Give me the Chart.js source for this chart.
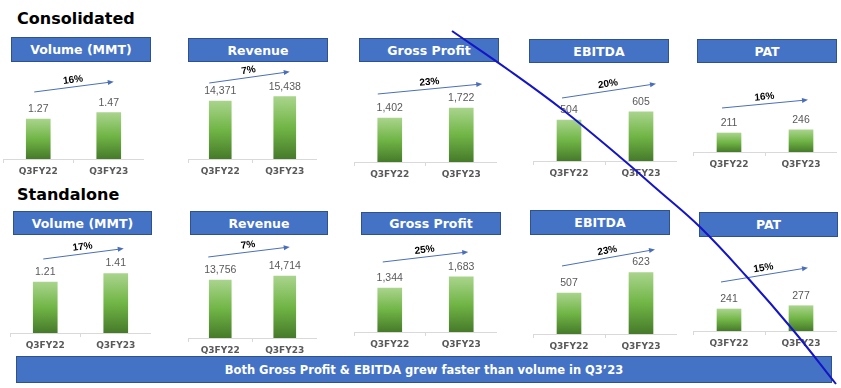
<!DOCTYPE html>
<html>
<head>
<meta charset="utf-8">
<script src="https://cdn.jsdelivr.net/npm/chart.js@4.4.0/dist/chart.umd.min.js"></script>
<style>
  body { margin: 0; width: 841px; height: 388px; background: #fff; position: relative; overflow: hidden; font-family: "DejaVu Sans", sans-serif; }
  .section { position: absolute; left: 17px; font-weight: bold; font-size: 16px; color: #000; line-height: 20px; }
  .head { position: absolute; background: #4472c4; border: 1px solid #2f528f; color: #fff; font-weight: bold; font-size: 12.5px; display: flex; align-items: center; justify-content: center; box-sizing: border-box; }
  .panel { position: absolute; }
  #banner { position: absolute; left: 16px; top: 356px; width: 816px; height: 27px; background: #4472c4; border: 1px solid #2f528f; box-sizing: border-box; color: #fff; font-weight: bold; font-size: 11.5px; display: flex; align-items: center; justify-content: center; }
  #pen { position: absolute; left: 0; top: 0; pointer-events: none; }
</style>
</head>
<body>
<div class="section" style="top:9px">Consolidated</div>
<div class="section" style="top:185px">Standalone</div>
<div id="banner">Both Gross Profit &amp; EBITDA grew faster than volume in Q3’23</div>
<canvas id="pen" width="841" height="388"></canvas>
<script>
// Data
const periods = ['Q3FY22', 'Q3FY23'];
const metrics = ['Volume (MMT)', 'Revenue', 'Gross Profit', 'EBITDA', 'PAT'];

const consVolume = [1.27, 1.47];
const consRevenue = [14371, 15438];
const consGrossProfit = [1402, 1722];
const consEbitda = [504, 605];
const consPat = [211, 246];
const consGrowth = ['16%', '7%', '23%', '20%', '16%'];

const standVolume = [1.21, 1.41];
const standRevenue = [13756, 14714];
const standGrossProfit = [1344, 1683];
const standEbitda = [507, 623];
const standPat = [241, 277];
const standGrowth = ['17%', '7%', '25%', '23%', '15%'];

// hand drawn pen stroke across the slide
const penStroke = [
    {x: 452, y: 31}, {x: 510, y: 71}, {x: 563, y: 110}, {x: 620, y: 157},
    {x: 658, y: 190}, {x: 700, y: 227}, {x: 747, y: 277}, {x: 793, y: 330}, {x: 836, y: 384}
];

const panelValues = [consVolume, consRevenue, consGrossProfit, consEbitda, consPat,
                     standVolume, standRevenue, standGrossProfit, standEbitda, standPat];
const panelGrowth = consGrowth.concat(standGrowth);

// layout: header box, axis span, canvas top, baseline, scale range, bar width, arrow offsets
const panelLayout = [
    {head: [11, 37, 140, 25], left: 3, width: 141, top: 64, base: 159, yMin: 0, yMax: 3.016, bar: 24, arrow: [-4, -27, 5, -31]},
    {head: [188, 38, 140, 24], left: 188, width: 129, top: 64, base: 159, yMin: 0, yMax: 23539, bar: 22, arrow: [-11, -18, 5, -25]},
    {head: [359, 38, 140, 24], left: 354, width: 143, top: 64, base: 162, yMin: 0, yMax: 3123, bar: 24, arrow: [-12, -24, 21, -24]},
    {head: [529, 39, 140, 24], left: 533, width: 144, top: 64, base: 161, yMin: 0, yMax: 1192, bar: 24, arrow: [-7, -22, 15, -28]},
    {head: [697, 39, 140, 24], left: 693, width: 144, top: 64, base: 152, yMin: 0, yMax: 977, bar: 24, arrow: [-7, -25, 7, -30]},
    {head: [13, 211, 139, 24], left: 10, width: 141, top: 238, base: 333, yMin: 0, yMax: 2.254, bar: 24, arrow: [-2, -23, 8, -25]},
    {head: [190, 211, 138, 24], left: 188, width: 129, top: 238, base: 338, yMin: 0, yMax: 23717, bar: 22, arrow: [-12, -23, 5, -29]},
    {head: [361, 212, 140, 23], left: 354, width: 143, top: 238, base: 332, yMin: 0, yMax: 2871, bar: 24, arrow: [-7, -26, 7, -25]},
    {head: [530, 210, 140, 25], left: 533, width: 144, top: 238, base: 334, yMin: 275, yMax: 818, bar: 24, arrow: [-7, -27, 14, -23]},
    {head: [699, 212, 139, 25], left: 693, width: 144, top: 238, base: 331, yMin: 0, yMax: 1019, bar: 24, arrow: [-8, -27, 7, -38]}
];

const AXIS_H = 20;

function fmtValue(v) {
    return v < 10 ? v.toFixed(2) : v.toLocaleString('en-US');
}

function barGradient(context) {
    const chart = context.chart;
    const area = chart.chartArea;
    if (!area) return '#70ad47';
    const top = chart.scales.y.getPixelForValue(context.raw);
    const g = chart.ctx.createLinearGradient(0, top, 0, area.bottom);
    g.addColorStop(0, '#a9d48c');
    g.addColorStop(0.5, '#71b546');
    g.addColorStop(1, '#467a2a');
    return g;
}

// value labels, growth arrow and percentage
const annotate = {
    id: 'annotate',
    afterDatasetsDraw(chart, args, opts) {
        const ctx = chart.ctx;
        const bars = chart.getDatasetMeta(0).data;
        const values = chart.data.datasets[0].data;
        ctx.save();
        ctx.fillStyle = '#595959';
        ctx.font = '10.5px "Liberation Sans"';
        ctx.textAlign = 'center';
        ctx.textBaseline = 'middle';
        bars.forEach((b, i) => ctx.fillText(fmtValue(values[i]), b.x, b.y - 10));

        const a = opts.arrow;
        const x1 = bars[0].x + a[0], y1 = bars[0].y + a[1];
        const x2 = bars[1].x + a[2], y2 = bars[1].y + a[3];
        const ang = Math.atan2(y2 - y1, x2 - x1);
        ctx.strokeStyle = '#4a6fb8';
        ctx.fillStyle = '#4a6fb8';
        ctx.lineWidth = 1;
        ctx.beginPath();
        ctx.moveTo(x1, y1);
        ctx.lineTo(x2 - 4 * Math.cos(ang), y2 - 4 * Math.sin(ang));
        ctx.stroke();
        ctx.translate(x2, y2);
        ctx.rotate(ang);
        ctx.beginPath();
        ctx.moveTo(0, 0);
        ctx.lineTo(-6, -2.5);
        ctx.lineTo(-6, 2.5);
        ctx.closePath();
        ctx.fill();
        ctx.setTransform(1, 0, 0, 1, 0, 0);

        ctx.translate((x1 + x2) / 2, (y1 + y2) / 2);
        ctx.rotate(ang);
        ctx.fillStyle = '#000';
        ctx.font = 'bold 10px "Liberation Sans"';
        ctx.fillText(opts.growth, 0, -7);
        ctx.restore();
    }
};

panelLayout.forEach((p, i) => {
    const head = document.createElement('div');
    head.className = 'head';
    head.style.left = p.head[0] + 'px';
    head.style.top = p.head[1] + 'px';
    head.style.width = p.head[2] + 'px';
    head.style.height = p.head[3] + 'px';
    head.textContent = metrics[i % 5];
    document.body.insertBefore(head, document.getElementById('pen'));

    const canvas = document.createElement('canvas');
    canvas.className = 'panel';
    canvas.width = p.width;
    canvas.height = p.base - p.top + AXIS_H;
    canvas.style.left = p.left + 'px';
    canvas.style.top = p.top + 'px';
    document.body.insertBefore(canvas, document.getElementById('pen'));

    new Chart(canvas, {
        type: 'bar',
        data: {
            labels: periods,
            datasets: [{
                data: panelValues[i],
                backgroundColor: barGradient,
                barThickness: p.bar
            }]
        },
        options: {
            responsive: false,
            animation: false,
            layout: { padding: 0 },
            plugins: {
                legend: { display: false },
                tooltip: { enabled: false },
                annotate: { arrow: p.arrow, growth: panelGrowth[i] }
            },
            scales: {
                x: {
                    grid: { offset: true, drawOnChartArea: false, tickLength: 4, color: '#d9d9d9' },
                    border: { color: '#d9d9d9' },
                    ticks: { color: '#595959', padding: 3, font: { family: 'DejaVu Sans', size: 9, weight: 'bold' } },
                    afterFit: (scale) => { scale.height = AXIS_H; }
                },
                y: { display: false, min: p.yMin, max: p.yMax }
            }
        },
        plugins: [annotate]
    });
});

// pen stroke overlay in page coordinates
new Chart(document.getElementById('pen'), {
    type: 'line',
    data: {
        datasets: [{
            data: penStroke,
            borderColor: '#1414c8',
            borderWidth: 2,
            tension: 0.4,
            pointRadius: 0,
            fill: false
        }]
    },
    options: {
        responsive: false,
        animation: false,
        layout: { padding: 0 },
        plugins: { legend: { display: false }, tooltip: { enabled: false } },
        scales: {
            x: { type: 'linear', display: false, min: 0, max: 841 },
            y: { type: 'linear', display: false, min: 0, max: 388, reverse: true }
        }
    }
});
</script>
</body>
</html>
